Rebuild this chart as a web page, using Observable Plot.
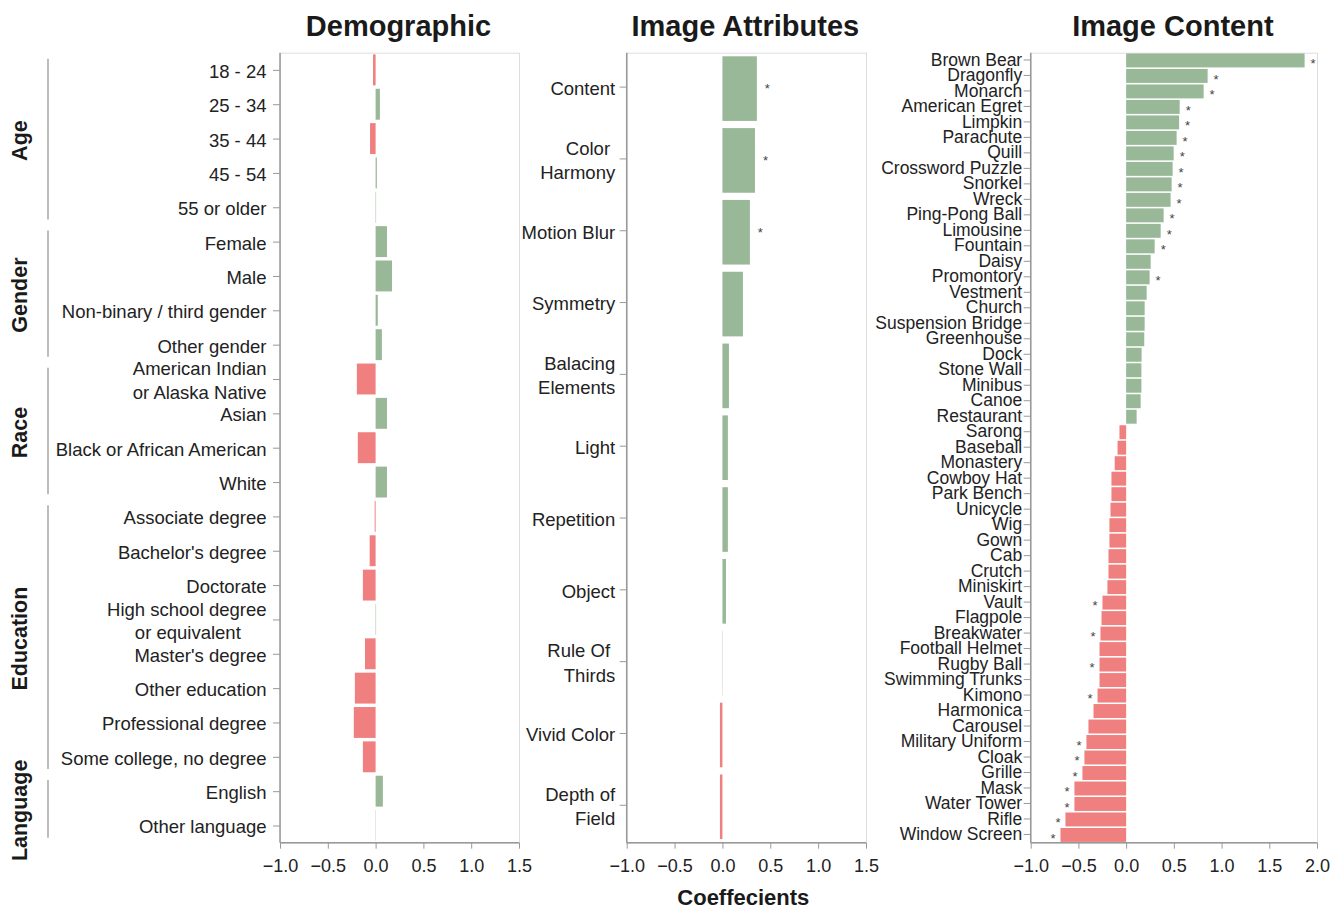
<!DOCTYPE html>
<html><head><meta charset="utf-8">
<script src="https://cdn.jsdelivr.net/npm/d3@7"></script>
<script src="https://cdn.jsdelivr.net/npm/@observablehq/plot@0.6"></script>
<style>
body{margin:0;background:#fff;}
#root{position:relative;width:1330px;height:909px;overflow:hidden;font-family:"Liberation Sans",Arial,Helvetica,sans-serif;}
#root svg{position:absolute;top:0;overflow:visible;}
</style></head><body><div id="root"></div>
<script>
// ---------- DATA ----------
const demoCategories = ["18 - 24","25 - 34","35 - 44","45 - 54","55 or older",
  "Female","Male","Non-binary / third gender","Other gender",
  "American Indian\nor Alaska Native","Asian","Black or African American","White",
  "Associate degree","Bachelor's degree","Doctorate","High school degree\nor equivalent\u00a0\u00a0\u00a0\u00a0\u00a0",
  "Master's degree","Other education","Professional degree","Some college, no degree",
  "English","Other language"];
const demoValues = [-0.027,0.045,-0.058,0.013,0.005,
  0.119,0.172,0.023,0.066,
  -0.196,0.119,-0.186,0.119,
  -0.01,-0.062,-0.133,0.005,-0.111,-0.217,-0.228,-0.133,
  0.076,0.003];
const demoGroups = ["Age","Age","Age","Age","Age",
  "Gender","Gender","Gender","Gender",
  "Race","Race","Race","Race",
  "Education","Education","Education","Education","Education","Education","Education","Education",
  "Language","Language"];

const attrCategories = ["Content","Color\u00a0\nHarmony","Motion Blur","Symmetry","Balacing\nElements",
  "Light","Repetition","Object","Rule Of\u00a0\nThirds","Vivid Color","Depth of\nField"];
const attrValues = [0.36,0.34,0.287,0.214,0.068,0.057,0.057,0.037,0.003,-0.026,-0.026];
const attrSignificant = ["Content","Color\u00a0\nHarmony","Motion Blur"];

const contentCategories = ["Brown Bear","Dragonfly","Monarch","American Egret","Limpkin","Parachute","Quill",
  "Crossword Puzzle","Snorkel","Wreck","Ping-Pong Ball","Limousine","Fountain","Daisy","Promontory","Vestment",
  "Church","Suspension Bridge","Greenhouse","Dock","Stone Wall","Minibus","Canoe","Restaurant","Sarong","Baseball",
  "Monastery","Cowboy Hat","Park Bench","Unicycle","Wig","Gown","Cab","Crutch","Miniskirt","Vault","Flagpole",
  "Breakwater","Football Helmet","Rugby Ball","Swimming Trunks","Kimono","Harmonica","Carousel","Military Uniform",
  "Cloak","Grille","Mask","Water Tower","Rifle","Window Screen"];
const contentValues = [1.87,0.854,0.812,0.561,0.555,0.529,0.498,0.487,0.477,0.466,0.393,0.362,0.299,0.257,0.246,
  0.215,0.194,0.194,0.19,0.162,0.16,0.16,0.152,0.11,-0.07,-0.09,-0.12,-0.154,-0.154,-0.164,-0.175,-0.175,-0.185,
  -0.185,-0.196,-0.248,-0.258,-0.269,-0.279,-0.279,-0.279,-0.3,-0.342,-0.395,-0.416,-0.437,-0.458,-0.542,-0.542,
  -0.636,-0.688];
const contentSignificant = ["Brown Bear","Dragonfly","Monarch","American Egret","Limpkin","Parachute","Quill",
  "Crossword Puzzle","Snorkel","Wreck","Ping-Pong Ball","Limousine","Fountain","Promontory",
  "Vault","Breakwater","Rugby Ball","Kimono","Military Uniform","Cloak","Grille","Mask","Water Tower","Rifle","Window Screen"];

const ticks15 = [-1,-0.5,0,0.5,1,1.5];
const ticks20 = [-1,-0.5,0,0.5,1,1.5,2];
const panelTitles = ["Demographic","Image Attributes","Image Content"];
const xAxisTitle = "Coeffecients";

// ---------- STYLE ----------
const GREEN = "#99b898", RED = "#f08080";
const FONT = '"Liberation Sans", Arial, Helvetica, sans-serif';
const H = 880, MT = 52.7, MB = 37.3;

function panel({cats, vals, sig, left, width, marginLeft, marginRight, domain, ticks, tickPadding, lineHeight, labelDy, starDx, starDy, fontSize}) {
  const data = cats.map((c, i) => ({cat: c, value: vals[i], sig: sig.includes(c)}));
  const chart = Plot.plot({
    width, height: H, marginLeft, marginRight, marginTop: MT, marginBottom: MB,
    style: {fontSize: fontSize + "px", fontFamily: FONT, overflow: "visible", color: "#222", background: "transparent"},
    x: {domain, label: null},
    y: {domain: cats, paddingInner: 0.1, paddingOuter: 0.05, round: false, label: null},
    marks: [
      Plot.frame({stroke: "#dddddd"}),
      Plot.barX(data, {x: "value", y: "cat", fill: d => d.value >= 0 ? GREEN : RED}),
      Plot.text(data.filter(d => d.sig && d.value >= 0), {x: "value", y: "cat", text: () => "*", dx: starDx, dy: starDy, fill: "#444", fontSize: 13}),
      Plot.text(data.filter(d => d.sig && d.value < 0), {x: "value", y: "cat", text: () => "*", dx: -starDx, dy: starDy, fill: "#444", fontSize: 13}),
      Plot.axisX({ticks, tickFormat: d3.format(".1f"), tickSize: 6, tickPadding: 10, stroke: "#999", fill: "#222", label: null, fontSize: 18}),
      Plot.axisY({tickSize: 7, tickPadding, stroke: "#999", fill: "#222", label: null, lineHeight, dy: labelDy}),
      (index, scales, values, dims) => {
        const g = d3.create("svg:g").attr("stroke", "#999").attr("stroke-width", 1.5);
        g.append("line").attr("x1", dims.marginLeft).attr("x2", dims.marginLeft)
          .attr("y1", dims.marginTop).attr("y2", dims.height - dims.marginBottom);
        g.append("line").attr("x1", dims.marginLeft).attr("x2", dims.width - dims.marginRight)
          .attr("y1", dims.height - dims.marginBottom).attr("y2", dims.height - dims.marginBottom);
        return g.node();
      }
    ]
  });
  chart.style.left = left + "px";
  chart.style.position = "absolute";
  chart.style.top = "0px";
  return {chart, left};
}

const root = document.getElementById("root");
const p1 = panel({cats: demoCategories, vals: demoValues, sig: [], left: 0, width: 527, marginLeft: 280, marginRight: 8,
  domain: [-1, 1.5], ticks: ticks15, tickPadding: 7, lineHeight: 1.26, labelDy: 0, starDx: 9, starDy: 0, fontSize: 18.5});
const p2 = panel({cats: attrCategories, vals: attrValues, sig: attrSignificant, left: 530, width: 345, marginLeft: 96.7, marginRight: 9,
  domain: [-1, 1.5], ticks: ticks15, tickPadding: 5, lineHeight: 1.32, labelDy: -2, starDx: 10, starDy: 0, fontSize: 18.5});
const p3 = panel({cats: contentCategories, vals: contentValues, sig: contentSignificant, left: 860, width: 470, marginLeft: 170.7, marginRight: 13,
  domain: [-1, 2], ticks: ticks20, tickPadding: 2, lineHeight: 1, labelDy: -1, starDx: 8, starDy: 3, fontSize: 17.5});
[p1, p2, p3].forEach(p => root.appendChild(p.chart));

// ---------- OVERLAY: titles, group labels, axis title ----------
const ov = d3.select(root).append("svg").attr("width", 1330).attr("height", 909)
  .style("left", "0px").style("pointer-events", "none")
  .attr("font-family", FONT);

[p1, p2, p3].forEach((p, i) => {
  const r = p.chart.scale("x").range;
  ov.append("text").attr("x", p.left + (r[0] + r[1]) / 2 - 1).attr("y", 36)
    .attr("text-anchor", "middle").attr("font-weight", "bold").attr("font-size", 29).attr("fill", "#1a1a1a")
    .text(panelTitles[i]);
});
{
  const r = p2.chart.scale("x").range;
  ov.append("text").attr("x", p2.left + (r[0] + r[1]) / 2 - 3).attr("y", 905)
    .attr("text-anchor", "middle").attr("font-weight", "bold").attr("font-size", 22).attr("fill", "#1a1a1a")
    .text(xAxisTitle);
}
{
  const ys = p1.chart.scale("y");
  const step = ys.step, bw = ys.bandwidth, gap = step - bw;
  const groups = Array.from(new Set(demoGroups));
  groups.forEach(gname => {
    const idx = demoGroups.map((g, i) => g === gname ? i : -1).filter(i => i >= 0);
    const top = ys.apply(demoCategories[idx[0]]) - gap / 2;
    const bottom = ys.apply(demoCategories[idx[idx.length - 1]]) + bw + gap / 2;
    ov.append("line").attr("x1", 48).attr("x2", 48).attr("y1", top + 6).attr("y2", bottom - 5)
      .attr("stroke", "#999").attr("stroke-width", 1.3);
    ov.append("text").attr("transform", `translate(27,${(top + bottom) / 2 + 2}) rotate(-90)`)
      .attr("text-anchor", "middle").attr("font-weight", "bold").attr("font-size", 21.5).attr("fill", "#1a1a1a")
      .text(gname);
  });
}
</script>
</body></html>
